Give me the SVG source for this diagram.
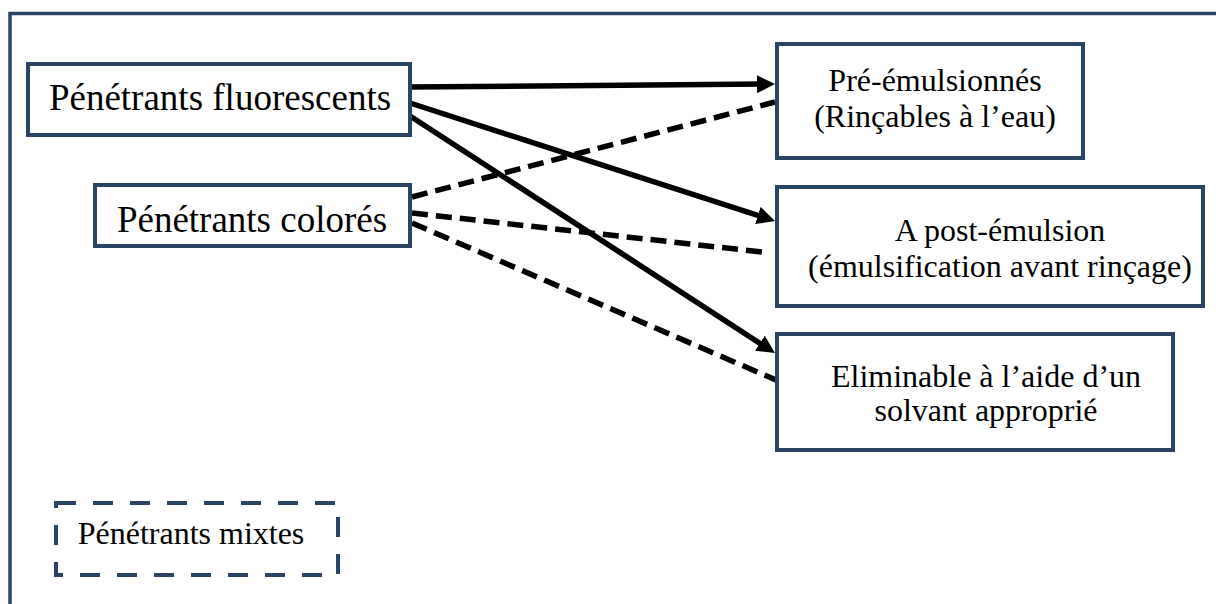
<svg xmlns="http://www.w3.org/2000/svg" width="1216" height="604" viewBox="0 0 1216 604">
  <style>
    .box { fill: #ffffff; stroke: #2a4466; stroke-width: 4; }
    .dbox { fill: #ffffff; stroke: #2a4466; stroke-width: 4; stroke-dasharray: 20 17; }
    .big { font-family: "Liberation Serif", "Times New Roman", serif; font-size: 37px; fill: #000; text-anchor: middle; }
    .txt { font-family: "Liberation Serif", "Times New Roman", serif; font-size: 32px; fill: #000; text-anchor: middle; }
    .solid { stroke: #000; stroke-width: 5.5; fill: none; }
    .dash { stroke: #000; stroke-width: 5.5; fill: none; stroke-dasharray: 16 8; }
  </style>
  <defs>
    <marker id="arrow" markerUnits="userSpaceOnUse" markerWidth="18" markerHeight="18" refX="8" refY="9" orient="auto">
      <path d="M0,0 L18,9 L0,18 z" fill="#000"/>
    </marker>
  </defs>

  <rect width="1216" height="604" fill="#ffffff"/>

  <!-- outer frame, running off the right and bottom edges -->
  <rect id="frame" x="10" y="13.5" width="1300" height="700" fill="none" stroke="#2a4466" stroke-width="3.5"/>

  <!-- connectors -->
  <g id="connectors">
    <line class="solid" x1="410" y1="87" x2="765" y2="84.1" marker-end="url(#arrow)"/>
    <line class="solid" x1="410" y1="103" x2="765.5" y2="217.9" marker-end="url(#arrow)"/>
    <line class="solid" x1="410" y1="116" x2="766.6" y2="347.6" marker-end="url(#arrow)"/>
    <line class="dash" x1="412" y1="197" x2="775" y2="102"/>
    <line class="dash" x1="412" y1="213" x2="762" y2="252"/>
    <line class="dash" x1="412" y1="223" x2="776" y2="380"/>
  </g>

  <g id="fluorescents">
    <rect class="box" x="28" y="64" width="382" height="71"/>
    <text class="big" x="220" y="110">Pénétrants fluorescents</text>
  </g>

  <g id="colores">
    <rect class="box" x="95" y="185" width="315" height="61"/>
    <text class="big" x="252" y="232">Pénétrants colorés</text>
  </g>

  <g id="pre-emulsionnes">
    <rect class="box" x="777" y="44" width="306" height="114"/>
    <text class="txt" x="935" y="91">Pré-émulsionnés</text>
    <text class="txt" x="935" y="127">(Rinçables à l’eau)</text>
  </g>

  <g id="post-emulsion">
    <rect class="box" x="777" y="187" width="426" height="119"/>
    <text class="txt" x="1000" y="241">A post-émulsion</text>
    <text class="txt" x="1000" y="277">(émulsification avant rinçage)</text>
  </g>

  <g id="solvant">
    <rect class="box" x="777" y="334" width="396" height="116"/>
    <text class="txt" x="986" y="387">Eliminable à l’aide d’un</text>
    <text class="txt" x="986" y="421">solvant approprié</text>
  </g>

  <g id="mixtes">
    <rect class="dbox" x="56" y="503" width="282" height="72"/>
    <text class="txt" x="191" y="544">Pénétrants mixtes</text>
  </g>
</svg>
